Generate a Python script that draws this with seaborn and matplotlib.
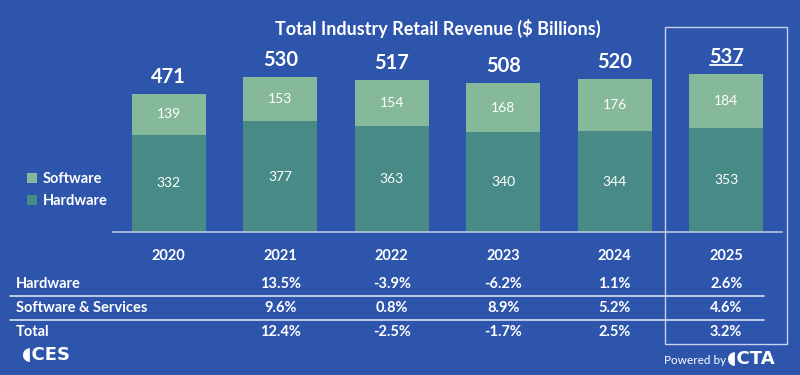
import numpy as np
import pandas as pd
import seaborn as sns
import matplotlib.pyplot as plt
from matplotlib.patches import Rectangle, Patch
from matplotlib.lines import Line2D
import matplotlib.transforms as mtrans

years = ["2020", "2021", "2022", "2023", "2024", "2025"]
hardware = [332, 377, 363, 340, 344, 353]
software = [139, 153, 154, 168, 176, 184]
totals = [471, 530, 517, 508, 520, 537]

row_names = ["Hardware", "Software & Services", "Total"]
hw_growth = ["", "13.5%", "-3.9%", "-6.2%", "1.1%", "2.6%"]
sw_growth = ["", "9.6%", "0.8%", "8.9%", "5.2%", "4.6%"]
tot_growth = ["", "12.4%", "-2.5%", "-1.7%", "2.5%", "3.2%"]

bg = "#2E55AC"
c_soft = "#86B89A"
c_hard = "#478A86"

sns.set_theme(style="white")
plt.rcParams["font.family"] = ["Lato", "DejaVu Sans"]

df = pd.DataFrame({"year": years, "hardware": hardware, "software": software})
df["total"] = df["hardware"] + df["software"]

fig = plt.figure(figsize=(8, 3.75), dpi=100, facecolor=bg)
ax = fig.add_axes([113/800, 143/375, 669/800, 176/375])
ax.set_facecolor(bg)

sns.barplot(data=df, x="year", y="total", color=c_soft, width=0.665,
            saturation=1, linewidth=0, ax=ax)
sns.barplot(data=df, x="year", y="hardware", color=c_hard, width=0.665,
            saturation=1, linewidth=0, ax=ax)

ax.set_xlim(-0.5, 5.5)
ax.set_ylim(0, 600)
for s in ["top", "right", "left"]:
    ax.spines[s].set_visible(False)
ax.spines["bottom"].set_color("#B8C4E0")
ax.spines["bottom"].set_linewidth(1.2)
ax.set_yticks([])
ax.set_xlabel("")
ax.set_ylabel("")
ax.tick_params(axis="x", length=0, pad=12, colors="white")
for lab in ax.get_xticklabels():
    lab.set_fontweight("bold")
    lab.set_fontsize(10.5)

for i in range(len(years)):
    h, s, t = hardware[i], software[i], totals[i]
    ax.text(i, h/2, str(h), ha="center", va="center", color="white", fontsize=10)
    ax.text(i, h + s/2, str(s), ha="center", va="center", color="white", fontsize=10)
    ax.text(i, t + 58, str(t), ha="center", va="center", color="white",
            fontsize=14.5, fontweight="bold", clip_on=False)
# underline on latest year total
ax.plot([5 - 0.145, 5 + 0.145], [totals[5] + 31, totals[5] + 31], color="white",
        lw=1.3, clip_on=False)

fig.text(438/800, 1 - 28/375, "Total Industry Retail Revenue ($ Billions)",
         ha="center", va="center", color="white", fontsize=13, fontweight="bold")

handles = [Patch(facecolor=c_soft, edgecolor="none"), Patch(facecolor=c_hard, edgecolor="none")]
leg = fig.legend(handles, ["Software", "Hardware"], loc="center left",
                 bbox_to_anchor=(14/800, 1 - 190/375), frameon=False,
                 handlelength=0.7, handleheight=0.7, handletextpad=0.4,
                 labelspacing=0.55, fontsize=10.5)
for t in leg.get_texts():
    t.set_color("white")
    t.set_fontweight("bold")

# growth table
trans = mtrans.blended_transform_factory(ax.transData, fig.transFigure)
rows = [hw_growth, sw_growth, tot_growth]
row_y = [284, 308, 332]
for name, vals, y in zip(row_names, rows, row_y):
    fig.text(16/800, 1 - y/375, name, ha="left", va="center", color="white",
             fontsize=10.5, fontweight="bold")
    for i, v in enumerate(vals):
        if v:
            ax.text(i, 1 - y/375, v, transform=trans, ha="center", va="center",
                    color="white", fontsize=10.5, fontweight="bold", clip_on=False)
for y in [296, 320]:
    fig.add_artist(Line2D([10/800, 764/800], [1 - y/375, 1 - y/375],
                          transform=fig.transFigure, color="#D8DFF0", lw=1.2))

# highlight box around latest year
fig.add_artist(Rectangle((665/800, 1 - 344/375), 122/800, 317/375,
                         transform=fig.transFigure, fill=False,
                         edgecolor="#C8D2EA", lw=1))

# logos as text
fig.text(22/800, 1 - 355/375, "\u25D6CES", ha="left", va="center", color="white",
         fontsize=13, fontweight="bold", family=["DejaVu Sans"])
fig.text(664/800, 1 - 360/375, "Powered by", ha="left", va="center",
         color="white", fontsize=8.5)
fig.text(727/800, 1 - 359/375, "\u25D6CTA", ha="left", va="center", color="white",
         fontsize=13, fontweight="bold", family=["DejaVu Sans"])

fig.savefig("out.png", dpi=100, facecolor=bg)
